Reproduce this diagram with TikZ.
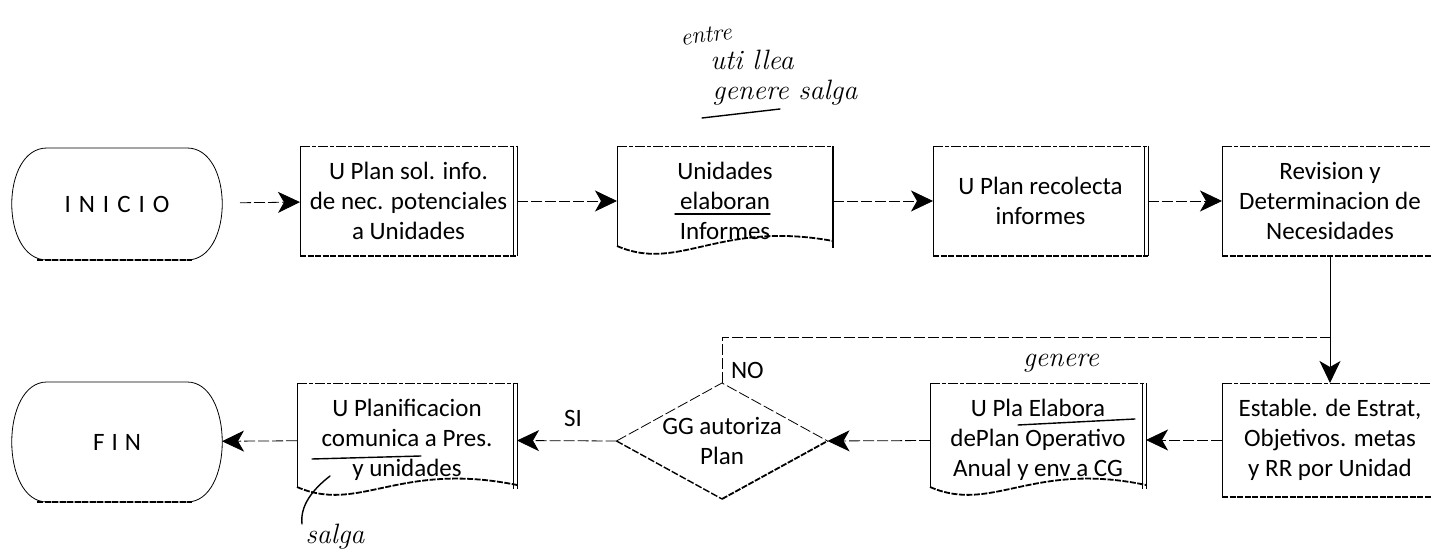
\documentclass[tikz,border=0pt]{standalone}
\usepackage{fontspec}
\newfontfamily\procfont{Carlito}
\usetikzlibrary{arrows.meta,shapes.geometric,calc}

% outline pieces of a scanned flowchart box
\newcommand\procframe[1]{%
  \draw[topedge] (#1.north west) -- (#1.north east);
  \draw[sideedge] (#1.north west) -- (#1.south west);
  \draw[botedge] (#1.south west) -- (#1.south east);
}
\newcommand\docframe[2]{% node, height of the right end of the wave
  \draw[topedge] (#1.north west) -- (#1.north east);
  \draw[sideedge] (#1.north west) -- ([yshift=10pt]#1.south west);
  \draw[botedge] ([yshift=10pt]#1.south west)
     .. controls ([shift={(62pt,-17pt)}]#1.south west) and ([shift={(102pt,36pt)}]#1.south west)
     .. ([yshift=#2]#1.south east);
}
\newcommand\shadowright[2]{% node, height where the edge stops
  \draw[sideedge] (#1.north east) -- ([yshift=#2]#1.south east);
  \draw[sideedge] ([xshift=-3.5pt]#1.north east) -- ([xshift=-3.5pt,yshift=#2]#1.south east);
}
\newcommand\termframe[1]{%
  \draw[sideedge] ([xshift=35pt]#1.north west) -- ([xshift=-35pt]#1.north east)
     .. controls ([xshift=12pt]#1.north east) and ([xshift=12pt]#1.south east)
     .. ([xshift=-35pt]#1.south east) -- ([xshift=35pt]#1.south west)
     .. controls ([xshift=-12pt]#1.south west) and ([xshift=-12pt]#1.north west)
     .. cycle;
  \draw[botedge] ([xshift=25pt]#1.south west) -- ([xshift=-30pt]#1.south east);
}

\begin{document}
\begin{tikzpicture}[x=1pt,y=1pt,
  every node/.style={inner sep=0pt, outer sep=0pt},
  txt/.style={font=\procfont\fontsize{25}{30}\selectfont, align=center},
  procbox/.style={txt, rectangle, minimum width=216pt, minimum height=110pt},
  lowbox/.style={procbox, minimum height=114pt},
  termbox/.style={txt, rectangle, minimum width=210pt},
  decision/.style={diamond, minimum width=211pt, minimum height=116pt},
  hand/.style={font=\itshape\fontsize{28}{30}\selectfont},
  topedge/.style={line width=0.8pt, dash pattern=on 10pt off 2pt on 4pt off 2pt},
  sideedge/.style={line width=0.8pt},
  botedge/.style={line width=1.8pt, dash pattern=on 6pt off 1.5pt},
  tip/.style={-{Stealth[length=22pt,width=21pt,inset=6pt]}},
  flow/.style={line width=0.8pt, dash pattern=on 11pt off 3pt, tip},
  loopline/.style={line width=0.8pt, dash pattern=on 11pt off 3pt},
  pen/.style={line width=1.4pt, line cap=round}
]
\fill[white] (0,0) rectangle (1431,556);
\useasboundingbox (0,0) rectangle (1431,556);

% ---- upper row
\node[termbox, minimum height=112pt] (start) at (117,352) {I\kern8pt N\kern8pt I\kern8pt C\kern8pt I\kern8pt O};
\node[procbox, minimum width=217pt] (b1) at (408.5,355) {U Plan sol. info.\\de nec. potenciales\\a Unidades};
\node[procbox] (b2) at (725,355) {Unidades\\elaboran\\Informes};
\node[procbox, minimum width=215pt] (b3) at (1040.5,355) {U Plan recolecta\\informes};
\node[procbox] (b4) at (1330,355) {Revision y\\Determinacion de\\Necesidades};

% ---- lower row
\node[termbox, minimum height=120pt] (fin) at (117,114) {F\kern7pt I\kern7pt N};
\node[lowbox, minimum width=220pt] (b5) at (407,116) {U Planificacion\\comunica a Pres.\\y unidades};
\node[decision] (dec) at (722,115) {};
\node[txt] (dectext) at (dec) {GG autoriza\\Plan};
\node[lowbox] (upla) at (1038,116) {U Pla Elabora\\dePlan Operativo\\Anual y env a CG};
\node[lowbox] (est) at (1330,116) {Estable. de Estrat,\\Objetivos. metas\\y RR por Unidad};

% ---- outlines
\termframe{start}
\termframe{fin}
\procframe{b1}\shadowright{b1}{0pt}
\docframe{b2}{15pt}
\draw[line width=2.5pt] (b2.north east) -- ([yshift=8pt]b2.south east);
\procframe{b3}\shadowright{b3}{0pt}
\draw[topedge] (b4.north west) -- (b4.north east);
\draw[sideedge] (b4.north west) -- (b4.south west);
\draw[botedge] (b4.south west) -- (b4.south east);
\docframe{b5}{12pt}\shadowright{b5}{8pt}
\docframe{upla}{12pt}\shadowright{upla}{8pt}
\draw[topedge] (est.north west) -- (est.north east);
\draw[sideedge] (est.north west) -- (est.south west);
\draw[botedge] (est.south west) -- (est.south east);
\draw[loopline] (dec.west) -- (dec.north) -- (dec.east);
\draw[line width=1.4pt, dash pattern=on 7pt off 2pt] (dec.west) -- (dec.south);
\draw[botedge] (dec.south) -- (dec.east);

% ---- connectors
\draw[flow, shorten <=18pt] (start) -- (b1);
\draw[flow] (b1) -- (b2);
\draw[flow] (b2) -- (b3);
\draw[flow] (b3) -- (b4);
\draw[line width=1pt, tip] (b4) -- (est);
\draw[flow] (est) -- (upla);
\draw[flow] (upla) -- (dec.east);
\draw[flow] (dec.west) -- (b5);
\draw[flow] (b5) -- (fin);
\coordinate (nojoin) at (1330,219);
\draw[loopline] (dec.north) |- (nojoin);
\node[txt] (si) at (573,138) {SI};
\node[txt, anchor=west] (no) at (731,186) {NO};

% ---- pen notes
\node[hand, font=\itshape\fontsize{24}{26}\selectfont, rotate=6] (n1) at (706,521) {entre};
\node[hand] (n2) at (752,496) {uti llea};
\node[hand] (n3) at (785,463) {genere salga};
\draw[pen] (702,438) -- (780,447);
\node[hand] (n4) at (1061,193) {genere};
\draw[pen] (1018,131) -- (1135,137);
\draw[pen] (675,342) -- (770,342);
\draw[pen] (312,97) -- (421,100);
\draw[pen] (330,80) .. controls (312,66) and (300,50) .. (302,32);
\node[hand] (n5) at (335,19) {salga};
\end{tikzpicture}
\end{document}
